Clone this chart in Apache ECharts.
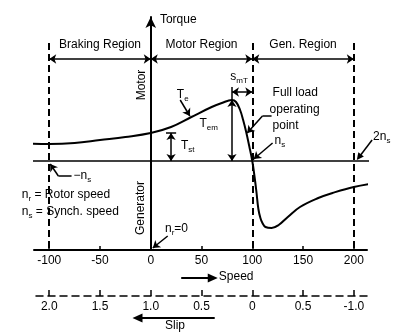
<!DOCTYPE html>
<html><head><meta charset="utf-8">
<script src="https://cdn.jsdelivr.net/npm/echarts@6/dist/echarts.min.js"></script>
<style>html,body{margin:0;padding:0;background:#fff}#c{width:410px;height:333px}</style>
</head><body><div id="c"></div>
<script>
// ---- data ----
const speedTicks = [-100, -50, 0, 50, 100, 150, 200];
const slipTicks = [2, 1.5, 1, 0.5, 0, -0.5, -1];
const slipLabels = ['2.0', '1.5', '1.0', '0.5', '0', '0.5', '-1.0'];
const curveSpeed  = [-137, -100, -75, -50, -25, 0, 20, 40, 60, 70, 80, 84, 88, 91, 94, 97, 100, 102, 104, 106, 108, 110, 113, 119, 126, 135, 147, 165, 179, 200, 222];
const curveTorque = [18, 17, 18, 21, 24, 28, 34, 44, 54, 58, 61, 59, 51, 41, 29, 15, 0, -14, -30, -48, -57, -62, -66, -67, -64, -56, -46, -37, -32, -26, -22];
const regionBounds = [-100, 0, 100, 200];
const regionNames = ['Braking Region', 'Motor Region', 'Gen. Region'];
const zeroLineSpan = [-137, 228];
const T_st = 28, T_em = 61, speedAtTem = 80, syncSpeed = 100;

const FONT = 'Liberation Sans, Arial, sans-serif';
const chart = echarts.init(document.getElementById('c'));

function seg(p, q, s0, s1) { return [{ coord: p, symbol: s0 || 'none' }, { coord: q, symbol: s1 || 'none' }]; }
function slipLabel(v) { const i = slipTicks.findIndex(t => Math.abs(t - v) < 1e-9); return i >= 0 ? slipLabels[i] : ''; }

const dashedLines = regionBounds.filter(v => v !== 0).map(v => seg([v, 118], [v, -89]));
const regionArrows = [];
for (let i = 0; i < regionBounds.length - 1; i++) regionArrows.push(seg([regionBounds[i], 102], [regionBounds[i + 1], 102], 'arrow', 'arrow'));

const solidLines = regionArrows.concat([
  seg([20, 0], [20, T_st], 'arrow', 'arrow'),
  seg([15, T_st], [25, T_st]),
  seg([speedAtTem, 0], [speedAtTem, T_em], 'arrow', 'arrow'),
  seg([speedAtTem, T_em], [speedAtTem, 74]),
  seg([speedAtTem, 69], [syncSpeed, 69], 'arrow', 'arrow'),
  seg([29, 61], [38.5, 45], 'none', 'arrow'),
  seg([119, 45], [110, 45]),
  seg([110, 45], [95, 28], 'none', 'arrow'),
  seg([120, 18], [101.5, 2], 'none', 'arrow'),
  seg([16.7, -75], [2, -87], 'none', 'arrow'),
  seg([-78, -15], [-91, -15]),
  seg([-91, -15], [-99, -3], 'none', 'arrow')
]);
// arrows lying outside the plot box (drawn as graphics)
const outerArrows = [
  { from: [218, 21], to: [203, 1], w: 1.5, L: 7, W: 3.5 },
  { from: [30, -117], to: [66, -117], w: 2, L: 10, W: 4.5 },
  { from: [63, -157], to: [-18, -157], w: 2, L: 10, W: 4.5 }
];

chart.setOption({
  animation: false,
  grid: { left: 34, right: 43, top: 17, bottom: 83 },
  xAxis: [{
    type: 'value', min: -115, max: 213, position: 'bottom',
    axisLine: { onZero: false, lineStyle: { color: '#000', width: 2 } },
    axisTick: { customValues: speedTicks, inside: true, length: 4, lineStyle: { color: '#000', width: 1.5 } },
    axisLabel: { customValues: speedTicks, color: '#000', fontSize: 12, fontFamily: FONT, margin: 5 },
    splitLine: { show: false }
  }, {
    type: 'value', inverse: true, min: -1.13, max: 2.15, position: 'bottom', offset: 46,
    axisLine: { onZero: false, lineStyle: { color: '#000', width: 1.5, type: [7, 5] } },
    axisTick: { customValues: slipTicks, inside: true, length: 6, lineStyle: { color: '#000', width: 1.5 } },
    axisLabel: { customValues: slipTicks, formatter: slipLabel, color: '#000', fontSize: 12, fontFamily: FONT, margin: 5 },
    splitLine: { show: false }
  }],
  yAxis: {
    type: 'value', min: -89, max: 144,
    axisLine: { show: true, onZero: true, onZeroAxisIndex: 0, symbol: ['none', 'arrow'], symbolSize: [8, 11], lineStyle: { color: '#000', width: 2 } },
    axisTick: { show: false }, axisLabel: { show: false }, splitLine: { show: false }
  },
  series: [{
    type: 'line', clip: false, smooth: 0.4, showSymbol: false, silent: true,
    data: curveSpeed.map((s, i) => [s, curveTorque[i]]),
    lineStyle: { color: '#000', width: 2 }, z: 5
  }, {
    type: 'line', clip: false, showSymbol: false, silent: true,
    data: zeroLineSpan.map(s => [s, 0]),
    lineStyle: { color: '#000', width: 1.5 },
    markLine: {
      silent: true, symbolSize: 7, label: { show: false },
      lineStyle: { color: '#000', width: 2, type: [7, 4] },
      data: dashedLines
    }
  }, {
    type: 'line', clip: false, showSymbol: false, silent: true, data: [],
    markLine: {
      silent: true, symbolSize: 7, label: { show: false },
      lineStyle: { color: '#000', width: 1.5, type: 'solid' },
      data: solidLines
    }
  }]
});

const P = (x, y) => chart.convertToPixel({ xAxisIndex: 0, yAxisIndex: 0 }, [x, y]);
const rich = {
  m: { fontSize: 12, fontFamily: FONT, lineHeight: 14, verticalAlign: 'top', color: '#000' },
  s: { fontSize: 8, fontFamily: FONT, lineHeight: 8, verticalAlign: 'bottom', padding: [6, 0, 0, 0], color: '#000' }
};
function txt(x, y, text, align, rot) {
  const p = P(x, y);
  return {
    type: 'text', x: p[0], y: p[1], rotation: rot || 0, silent: true,
    style: { text: text, rich: rich, fontSize: 12, fontFamily: FONT, fill: '#000', align: align || 'left', verticalAlign: 'middle' }
  };
}
function arrowG(a) {
  const p = P(a.from[0], a.from[1]), q = P(a.to[0], a.to[1]);
  const dx = q[0] - p[0], dy = q[1] - p[1], len = Math.hypot(dx, dy);
  const ux = dx / len, uy = dy / len, nx = -uy, ny = ux;
  const bx = q[0] - ux * a.L, by = q[1] - uy * a.L;
  return [
    { type: 'line', silent: true, shape: { x1: p[0], y1: p[1], x2: bx + ux, y2: by + uy }, style: { stroke: '#000', lineWidth: a.w } },
    { type: 'polygon', silent: true, shape: { points: [[q[0], q[1]], [bx + nx * a.W, by + ny * a.W], [bx - nx * a.W, by - ny * a.W]] }, style: { fill: '#000' } }
  ];
}
const gfx = [
  txt(9, 140, '{m|Torque}'),
  txt(-8, 76, '{m|Motor}', 'center', Math.PI / 2),
  txt(-9, -47, '{m|Generator}', 'center', Math.PI / 2),
  txt(31.5, 65, '{m|T}{s|e}', 'center'),
  txt(36.5, 14, '{m|T}{s|st}', 'center'),
  txt(57, 36, '{m|T}{s|em}', 'center'),
  txt(87, 83, '{m|s}{s|mT}', 'center'),
  txt(120, 67, '{m|Full load}'),
  txt(117, 50, '{m|operating}'),
  txt(120, 34, '{m|point}'),
  txt(122, 19, '{m|n}{s|s}'),
  txt(219, 23, '{m|2n}{s|s}'),
  txt(-76, -16, '{m|−n}{s|s}'),
  txt(-127, -35, '{m|n}{s|r}{m| = Rotor speed}'),
  txt(-127, -52, '{m|n}{s|s}{m| = Synch. speed}'),
  txt(14, -69, '{m|n}{s|r}{m|=0}'),
  txt(67, -117, '{m|Speed}'),
  txt(14, -166, '{m|Slip}')
];
for (let i = 0; i < regionNames.length; i++) {
  gfx.push(txt((regionBounds[i] + regionBounds[i + 1]) / 2, 115, '{m|' + regionNames[i] + '}', 'center'));
}
outerArrows.forEach(a => gfx.push(...arrowG(a)));
chart.setOption({ graphic: gfx });
</script>
</body></html>
